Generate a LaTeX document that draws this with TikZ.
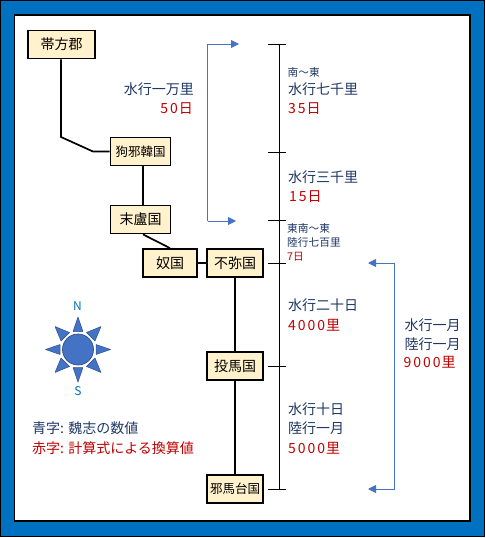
\documentclass[tikz,border=0pt]{standalone}
\usepackage{fontspec}
\setmainfont{Noto Sans CJK JP}
\newfontfamily\digitfont[LetterSpace=14]{Noto Sans CJK JP}
\usetikzlibrary{arrows.meta}
\definecolor{frameblue}{HTML}{0070C0}
\definecolor{boxfill}{HTML}{FFF2CC}
\definecolor{navytext}{HTML}{1F3864}
\definecolor{redtext}{HTML}{C00000}
\definecolor{arrowblue}{HTML}{4472C4}
\newcommand{\dg}[1]{{\digitfont #1}\kern1pt}
\tikzset{
  place/.style={draw=black,line width=1.8pt,fill=boxfill,inner sep=0pt,font=\fontsize{#1}{#1}\selectfont,minimum height=28pt},
  link/.style={line width=1.7pt,black},
  scaleline/.style={line width=1pt,black},
  bracket/.style={line width=0.9pt,arrowblue,-{Triangle[length=8pt,width=8pt]}},
  blue14/.style={inner sep=0pt,anchor=west,text=navytext,font=\fontsize{14}{14}\selectfont},
  red14/.style={inner sep=0pt,anchor=west,text=redtext,font=\fontsize{14}{14}\selectfont},
  blue10/.style={inner sep=0pt,anchor=west,text=navytext,font=\fontsize{10.7}{10.7}\selectfont},
  red10/.style={inner sep=0pt,anchor=west,text=redtext,font=\fontsize{10.7}{10.7}\selectfont},
  point/.style={fill=arrowblue,draw=arrowblue!70!black,line width=0.5pt,line join=round},
  compasslabel/.style={inner sep=0pt,text=frameblue,font=\fontsize{12}{12}\selectfont},
}
\begin{document}
\begin{tikzpicture}[x=1pt,y=-1pt]
\useasboundingbox (0,0) rectangle (486,538);
\fill[white] (0,0) rectangle (486,538);
% frame
\draw[line width=1pt,black,fill=frameblue] (0.5,0.5) rectangle (484,536);
\draw[line width=1.8pt,black,fill=white] (14.5,15) rectangle (470,521);
% places
\node[place=14,minimum width=67pt] (daifang) at (61.5,44.5) {帯方郡};
\node[place=12.5,minimum width=60pt] (kuya) at (140.5,151.5) {狗邪韓国};
\node[place=14,minimum width=60pt] (matsu) at (140.5,219.5) {末盧国};
\node[place=14,minimum width=54pt] (na) at (170,263) {奴国};
\node[place=14,minimum width=56pt] (fumi) at (235,263) {不弥国};
\node[place=14,minimum width=56pt] (toma) at (235,366) {投馬国};
\node[place=12.5,minimum width=56pt] (yamatai) at (235,489) {邪馬台国};
% links
\coordinate (bendA) at (61,137);
\coordinate (bendB) at (93,151.5);
\draw[link] (daifang.south -| bendA) -- (bendA) -- (bendB) -- (kuya.west);
\draw[link] (kuya.south -| 143,0) -- (matsu.north -| 143,0);
\draw[link] (matsu.south -| 143,0) -- (na.north);
\draw[link] (na.east) -- (fumi.west);
\draw[link] (fumi.south) -- (toma.north);
\draw[link] (toma.south) -- (yamatai.north);
% scale
\coordinate (top) at (279.5,44);
\coordinate (bottom) at (279.5,489);
\draw[scaleline] (top) -- (bottom);
\foreach \yy in {44,152,220,263,366.5,489}
  \draw[scaleline] (268,\yy) -- (286,\yy);
% brackets
\coordinate (brA) at (207.5,44);
\coordinate (brB) at (207.5,221);
\coordinate (brAe) at (239,44);
\coordinate (brBe) at (236,221);
\draw[bracket] (brB) -- (brBe);
\draw[bracket] (brB) -- (brA) -- (brAe);
\coordinate (brC) at (394.7,263);
\coordinate (brD) at (394.7,489);
\coordinate (brCe) at (368,263);
\coordinate (brDe) at (368,489);
\draw[bracket] (brD) -- (brDe);
\draw[bracket] (brD) -- (brC) -- (brCe);
% left labels
\node[blue14,anchor=east] (t1) at (194,89) {水行一万里};
\node[red14,anchor=east] (t2) at (193,109) {\dg{50}日};
% right labels
\node[blue10] (t3) at (287.5,72.5) {南〜東};
\node[blue14] (t4) at (288,89) {水行七千里};
\node[red14] (t5) at (288,109) {\dg{35}日};
\node[blue14] (t6) at (288,177) {水行三千里};
\node[red14] (t7) at (289,197) {\dg{15}日};
\node[blue10] (t8) at (287,228) {東南〜東};
\node[blue10] (t9) at (287,242) {陸行七百里};
\node[red10] (t10) at (287,257) {7日};
\node[blue14] (t11) at (288,305.5) {水行二十日};
\node[red14] (t12) at (288,325) {\dg{4000}里};
\node[blue14] (t13) at (288,408.7) {水行十日};
\node[blue14] (t14) at (288,428) {陸行一月};
\node[red14] (t15) at (288,448) {\dg{5000}里};
\node[blue14] (t16) at (404.5,325) {水行一月};
\node[blue14] (t17) at (404.5,344) {陸行一月};
\node[red14] (t18) at (403.5,362) {\dg{9000}里};
% compass
\fill[arrowblue,draw=arrowblue!70!black,line width=0.7pt] (78,349.5) circle (15.5);
\foreach \aa in {0,90,180,270}
  \draw[point,shift={(78,349.5)},rotate=\aa] (18,-5) -- (32.5,0) -- (18,5) -- cycle;
\foreach \aa in {45,135,225,315}
  \draw[point,shift={(78,349.5)},rotate=\aa] (18,-6) -- (32.5,0) -- (18,6) -- cycle;
\node[compasslabel] (north) at (77.5,306) {N};
\node[compasslabel] (south) at (78,391) {S};
% legend
\node[blue14] (l1) at (32,428) {青字: 魏志の数値};
\node[red14] (l2) at (32,448) {赤字: 計算式による換算値};
\end{tikzpicture}
\end{document}
